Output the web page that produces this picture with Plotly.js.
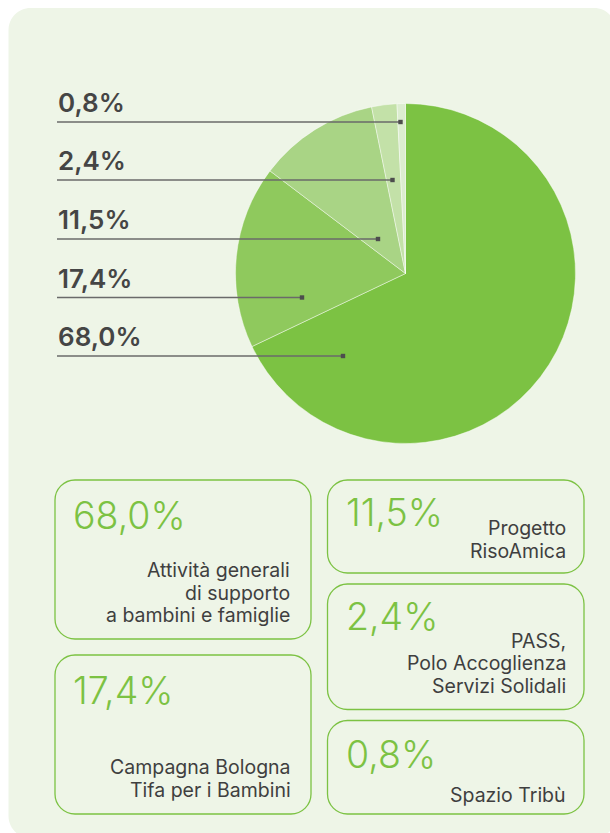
<!DOCTYPE html>
<html>
<head>
<meta charset="utf-8">
<script src="https://cdn.plot.ly/plotly-3.0.1.min.js"></script>
<style>html,body{margin:0;padding:0;background:#fff;}#chart{width:610px;height:833px;}</style>
</head>
<body>
<div id="chart"></div>
<script>
// ---- data ----
const categories = ["Attività generali di supporto a bambini e famiglie", "Campagna Bologna Tifa per i Bambini", "Progetto RisoAmica", "PASS, Polo Accoglienza Servizi Solidali", "Spazio Tribù"];
const values = [68.0, 17.4, 11.5, 2.4, 0.8];
const cardLabels = ["Attività generali<br>di supporto<br>a bambini e famiglie", "Campagna Bologna<br>Tifa per i Bambini", "Progetto<br>RisoAmica", "PASS,<br>Polo Accoglienza<br>Servizi Solidali", "Spazio Tribù"];
const sliceColors = ["#7cc243", "#8fc95d", "#a9d485", "#c3e1a8", "#dcedd0"];

// ---- layout helpers (pixels -> paper) ----
const W = 610, H = 833;
const px = x => x / W;
const py = y => 1 - y / H;
const fmt = v => v.toFixed(1).replace('.', ',') + '%';

function roundRect(x0, y0, x1, y1, r) {
  const k = 0.5523 * r;
  const P = (x, y) => px(x).toFixed(5) + ',' + py(y).toFixed(5);
  return 'M' + P(x0 + r, y0) + ' L' + P(x1 - r, y0) +
    ' C' + P(x1 - r + k, y0) + ' ' + P(x1, y0 + r - k) + ' ' + P(x1, y0 + r) +
    ' L' + P(x1, y1 - r) +
    ' C' + P(x1, y1 - r + k) + ' ' + P(x1 - r + k, y1) + ' ' + P(x1 - r, y1) +
    ' L' + P(x0 + r, y1) +
    ' C' + P(x0 + r - k, y1) + ' ' + P(x0, y1 - r + k) + ' ' + P(x0, y1 - r) +
    ' L' + P(x0, y0 + r) +
    ' C' + P(x0, y0 + r - k) + ' ' + P(x0 + r - k, y0) + ' ' + P(x0 + r, y0) + ' Z';
}

// pie geometry
const cx = 405.5, cy = 273.5, R = 170;

// left leader labels (order top->bottom) : index into data
const leaderOrder = [4, 3, 2, 1, 0];
const leaderY = [122, 180, 239, 297.5, 356];
const leaderEndX = [400.5, 392.5, 378, 302, 343];

// cards layout: box, number centre y, text baselines, text right x
const cards = [
  {i: 0, box: [55, 480, 311, 639], numY: 514.5, base: [576, 599, 621], txtX: 291},
  {i: 1, box: [55, 655, 311, 814], numY: 689, base: [773.3, 796], txtX: 292},
  {i: 2, box: [327.5, 480, 584, 573], numY: 511.7, base: [534, 557.3], txtX: 567},
  {i: 3, box: [327.5, 584, 584, 709.5], numY: 615, base: [647.3, 669.3, 691.7], txtX: 567},
  {i: 4, box: [327.5, 720.5, 584, 814], numY: 753.3, base: [801], txtX: 567}
];
const bodySize = 19.5;

const shapes = [];
const annotations = [];

// background panel
shapes.push({type: 'path', xref: 'paper', yref: 'paper', layer: 'below',
  path: roundRect(8.5, 8, 616, 838, 22), fillcolor: '#eef5e7', line: {width: 0}});

// leader lines and labels
leaderOrder.forEach((idx, k) => {
  const y = leaderY[k], xe = leaderEndX[k];
  shapes.push({type: 'line', xref: 'paper', yref: 'paper', x0: px(57), x1: px(xe), y0: py(y), y1: py(y),
    line: {color: '#6a6a6a', width: 1.3}});
  shapes.push({type: 'rect', xref: 'paper', yref: 'paper', x0: px(xe - 2.2), x1: px(xe + 2.2), y0: py(y - 2.2), y1: py(y + 2.2),
    fillcolor: '#4d4d4d', line: {width: 0}});
  annotations.push({xref: 'paper', yref: 'paper', x: px(56), y: py(y - 19.5), xanchor: 'left', yanchor: 'middle',
    showarrow: false, text: fmt(values[idx]),
    font: {family: 'Inter, sans-serif', size: 26, weight: 600, color: '#454545'}});
});

// cards
cards.forEach(c => {
  const [x0, y0, x1, y1] = c.box;
  shapes.push({type: 'path', xref: 'paper', yref: 'paper', layer: 'below',
    path: roundRect(x0, y0, x1, y1, 20), fillcolor: 'rgba(0,0,0,0)', line: {color: '#7cc243', width: 1.3}});
  annotations.push({xref: 'paper', yref: 'paper', x: px(x0 + 16), y: py(c.numY + 1), xanchor: 'left', yanchor: 'middle',
    showarrow: false, text: fmt(values[c.i]),
    font: {family: 'Inter, sans-serif', size: 37.5, weight: 300, color: '#7cc243'}});
  cardLabels[c.i].split('<br>').forEach((line, j) => {
    annotations.push({xref: 'paper', yref: 'paper', x: px(c.txtX + 1), y: py(c.base[j] - 0.3 * bodySize), xanchor: 'right', yanchor: 'middle', align: 'right',
      showarrow: false, text: line,
      font: {family: 'Inter, sans-serif', size: bodySize, weight: 400, color: '#3f3f3f'}});
  });
});

const data = [{
  type: 'pie',
  labels: categories,
  values: values,
  sort: false,
  direction: 'clockwise',
  rotation: 0,
  textinfo: 'none',
  hoverinfo: 'skip',
  showlegend: false,
  marker: {colors: sliceColors, line: {color: 'rgba(255,255,255,0.55)', width: 0.8}},
  domain: {x: [px(cx - R), px(cx + R)], y: [py(cy + R), py(cy - R)]}
}];

const layout = {
  width: W, height: H,
  margin: {l: 0, r: 0, t: 0, b: 0},
  paper_bgcolor: '#ffffff',
  plot_bgcolor: 'rgba(0,0,0,0)',
  showlegend: false,
  shapes: shapes,
  annotations: annotations
};

Plotly.newPlot('chart', data, layout, {displayModeBar: false, staticPlot: true});
</script>
</body>
</html>
